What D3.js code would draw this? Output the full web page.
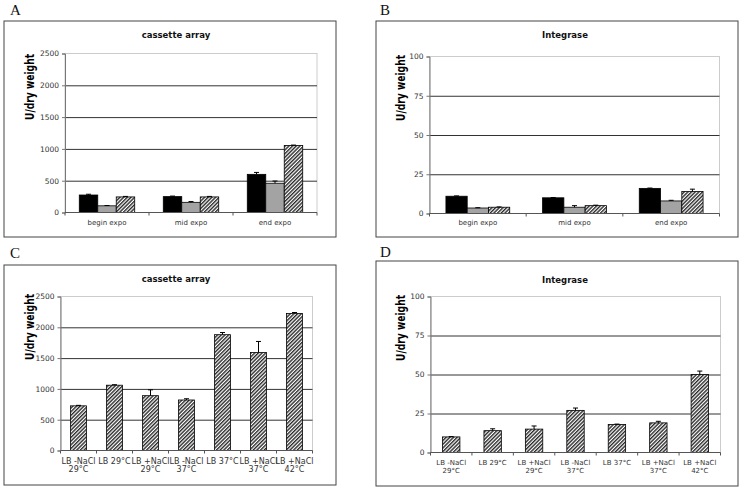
<!DOCTYPE html>
<html><head><meta charset="utf-8">
<script src="https://cdn.jsdelivr.net/npm/d3@7"></script>
<style>body{margin:0;background:#fff}svg{display:block}</style>
</head><body>
<svg id="c" width="745" height="489"></svg>
<script>
// ---- data ----
const phases = ["begin expo", "mid expo", "end expo"];
const aBlack = [275, 250, 600], aBlackErr = [12, 8, 30];
const aGray = [105, 160, 460], aGrayErr = [5, 12, 35];
const aHatch = [245, 245, 1055], aHatchErr = [8, 8, 5];
const bBlack = [11, 10, 16], bBlackErr = [0.2, 0.2, 0.2];
const bGray = [3.5, 4, 8], bGrayErr = [0.2, 1, 0.4];
const bHatch = [4, 5, 14], bHatchErr = [0.2, 0.3, 1.5];
const conditions = [["LB -NaCl", "29°C"], ["LB 29°C"], ["LB +NaCl", "29°C"], ["LB -NaCl", "37°C"], ["LB 37°C"], ["LB +NaCl", "37°C"], ["LB +NaCl", "42°C"]];
const cValues = [725, 1060, 890, 820, 1880, 1590, 2225];
const cErr = [8, 8, 95, 20, 35, 180, 15];
const dValues = [10, 14, 15, 27, 18, 19, 50];
const dErr = [0.2, 1.2, 2, 1.5, 0.2, 1, 2.2];
const ticksCassette = [0, 500, 1000, 1500, 2000, 2500];
const ticksIntegrase = [0, 25, 50, 75, 100];

const svg = d3.select("#c");
const defs = svg.append("defs");
const pat = defs.append("pattern").attr("id", "hatch").attr("patternUnits", "userSpaceOnUse")
  .attr("width", 2.6).attr("height", 2.6).attr("patternTransform", "rotate(45)");
pat.append("rect").attr("width", 2.6).attr("height", 2.6).attr("fill", "#fff");
pat.append("rect").attr("width", 1.4).attr("height", 2.6).attr("fill", "#2a2a2a");

const fills = ["#000", "#a3a3a3", "url(#hatch)"];
const FONT = "DejaVu Sans, Verdana, sans-serif";

function panel(o) {
  const g = svg.append("g");
  g.append("text").attr("x", o.letterX).attr("y", o.letterY).text(o.letter)
    .attr("font-family", "Liberation Serif, serif").attr("font-size", 15).attr("fill", "#111");
  g.append("rect").attr("x", o.box[0]).attr("y", o.box[1]).attr("width", o.box[2] - o.box[0]).attr("height", o.box[3] - o.box[1])
    .attr("fill", "#fff").attr("stroke", "#444").attr("stroke-width", 1);
  g.append("text").attr("x", o.titleX).attr("y", o.titleY).attr("text-anchor", "middle").text(o.title)
    .attr("font-family", FONT).attr("font-weight", "bold").attr("font-size", 8.5).attr("fill", "#111");
  const [L, T, R, B] = o.plot;
  const y = d3.scaleLinear().domain([0, o.ticks[o.ticks.length - 1]]).range([B, T]);
  const x = d3.scaleBand().domain(o.cats.map((d, i) => i)).range([L, R]).paddingInner(0).paddingOuter(0);
  g.append("rect").attr("x", L).attr("y", T).attr("width", R - L).attr("height", B - T)
    .attr("fill", "none").attr("stroke", "#ccc").attr("stroke-width", 1);
  const grid = g.append("g").attr("transform", `translate(${L},0)`)
    .call(d3.axisLeft(y).tickValues(o.ticks.slice(1, -1)).tickSize(-(R - L)).tickFormat(""));
  grid.select(".domain").remove();
  grid.selectAll("line").attr("stroke", "#333").attr("stroke-width", 1);
  const ya = g.append("g").attr("transform", `translate(${L},0)`)
    .call(d3.axisLeft(y).tickValues(o.ticks).tickSize(3).tickPadding(3).tickFormat(d3.format("d")));
  ya.select(".domain").attr("stroke", "#777");
  ya.selectAll("line").attr("stroke", "#777");
  ya.selectAll("text").attr("font-family", FONT).attr("font-size", 7.5).attr("fill", "#333");
  const series = o.series;
  const bw = x.bandwidth();
  series.forEach((s, si) => {
    const inner = o.grouped
      ? d3.scaleBand().domain(series.map((d, i) => i)).range([bw * 0.17, bw * 0.83])
      : null;
    const barW = o.grouped ? inner.bandwidth() : bw * o.barFrac;
    const off = o.grouped ? inner(si) : (bw - barW) / 2;
    const bars = g.append("g");
    s.values.forEach((v, i) => {
      const bx = x(i) + off;
      bars.append("rect").attr("x", bx).attr("y", y(v)).attr("width", barW).attr("height", y(0) - y(v))
        .attr("fill", s.fill).attr("stroke", "#000").attr("stroke-width", 0.8);
      const e = s.errs[i];
      const cx = bx + barW / 2;
      bars.append("line").attr("x1", cx).attr("x2", cx).attr("y1", y(v)).attr("y2", y(v + e)).attr("stroke", "#000").attr("stroke-width", 1);
      bars.append("line").attr("x1", cx - 2.5).attr("x2", cx + 2.5).attr("y1", y(v + e)).attr("y2", y(v + e)).attr("stroke", "#000").attr("stroke-width", 1);
    });
  });
  g.append("line").attr("x1", L).attr("x2", R).attr("y1", B).attr("y2", B).attr("stroke", "#555").attr("stroke-width", 1);
  const edges = o.cats.map((d, i) => x(i)).concat([R]);
  g.selectAll(null).data(edges).enter().append("line")
    .attr("x1", d => d).attr("x2", d => d).attr("y1", B).attr("y2", B + 3).attr("stroke", "#555");
  o.cats.forEach((c, i) => {
    const lines = Array.isArray(c) ? c : [c];
    const t = g.append("text").attr("text-anchor", "middle").attr("font-family", FONT)
      .attr("font-size", o.catSize).attr("fill", "#333");
    lines.forEach((ln, j) => {
      t.append("tspan").attr("x", x(i) + bw / 2).attr("y", B + o.catDy + j * o.catLh).text(ln);
    });
  });
  g.append("text").attr("transform", `translate(${o.ylabX},${o.ylabY}) rotate(-90)`).attr("text-anchor", "middle")
    .text("U/dry weight").attr("font-family", FONT).attr("font-weight", "bold").attr("font-size", 12)
    .attr("textLength", 66).attr("lengthAdjust", "spacingAndGlyphs").attr("fill", "#000");
}

panel({ letter: "A", letterX: 10, letterY: 15, box: [4, 21, 336, 237], title: "cassette array", titleX: 176, titleY: 38,
  plot: [65, 53.5, 317, 212.5], ticks: ticksCassette, cats: phases, grouped: true,
  series: [{ values: aBlack, errs: aBlackErr, fill: fills[0] }, { values: aGray, errs: aGrayErr, fill: fills[1] }, { values: aHatch, errs: aHatchErr, fill: fills[2] }],
  catSize: 7, catDy: 12, catLh: 9, ylabX: 34, ylabY: 87 });

panel({ letter: "B", letterX: 380, letterY: 15, box: [376, 21, 738, 237], title: "Integrase", titleX: 565, titleY: 38,
  plot: [429.5, 56.5, 719.5, 213.5], ticks: ticksIntegrase, cats: phases, grouped: true,
  series: [{ values: bBlack, errs: bBlackErr, fill: fills[0] }, { values: bGray, errs: bGrayErr, fill: fills[1] }, { values: bHatch, errs: bHatchErr, fill: fills[2] }],
  catSize: 7, catDy: 11, catLh: 9, ylabX: 405, ylabY: 88 });

panel({ letter: "C", letterX: 10, letterY: 258, box: [4, 265, 336, 485], title: "cassette array", titleX: 176, titleY: 282,
  plot: [60.5, 296.5, 312.5, 450.5], ticks: ticksCassette, cats: conditions, grouped: false, barFrac: 0.44,
  series: [{ values: cValues, errs: cErr, fill: fills[2] }],
  catSize: 8, catDy: 13, catLh: 8.5, ylabX: 34, ylabY: 327 });

panel({ letter: "D", letterX: 380, letterY: 257, box: [376, 261, 738, 486], title: "Integrase", titleX: 565, titleY: 283,
  plot: [430.5, 296.5, 720.5, 452.5], ticks: ticksIntegrase, cats: conditions, grouped: false, barFrac: 0.42,
  series: [{ values: dValues, errs: dErr, fill: fills[2] }],
  catSize: 7, catDy: 12, catLh: 8.5, ylabX: 405, ylabY: 328 });
</script>
</body></html>
